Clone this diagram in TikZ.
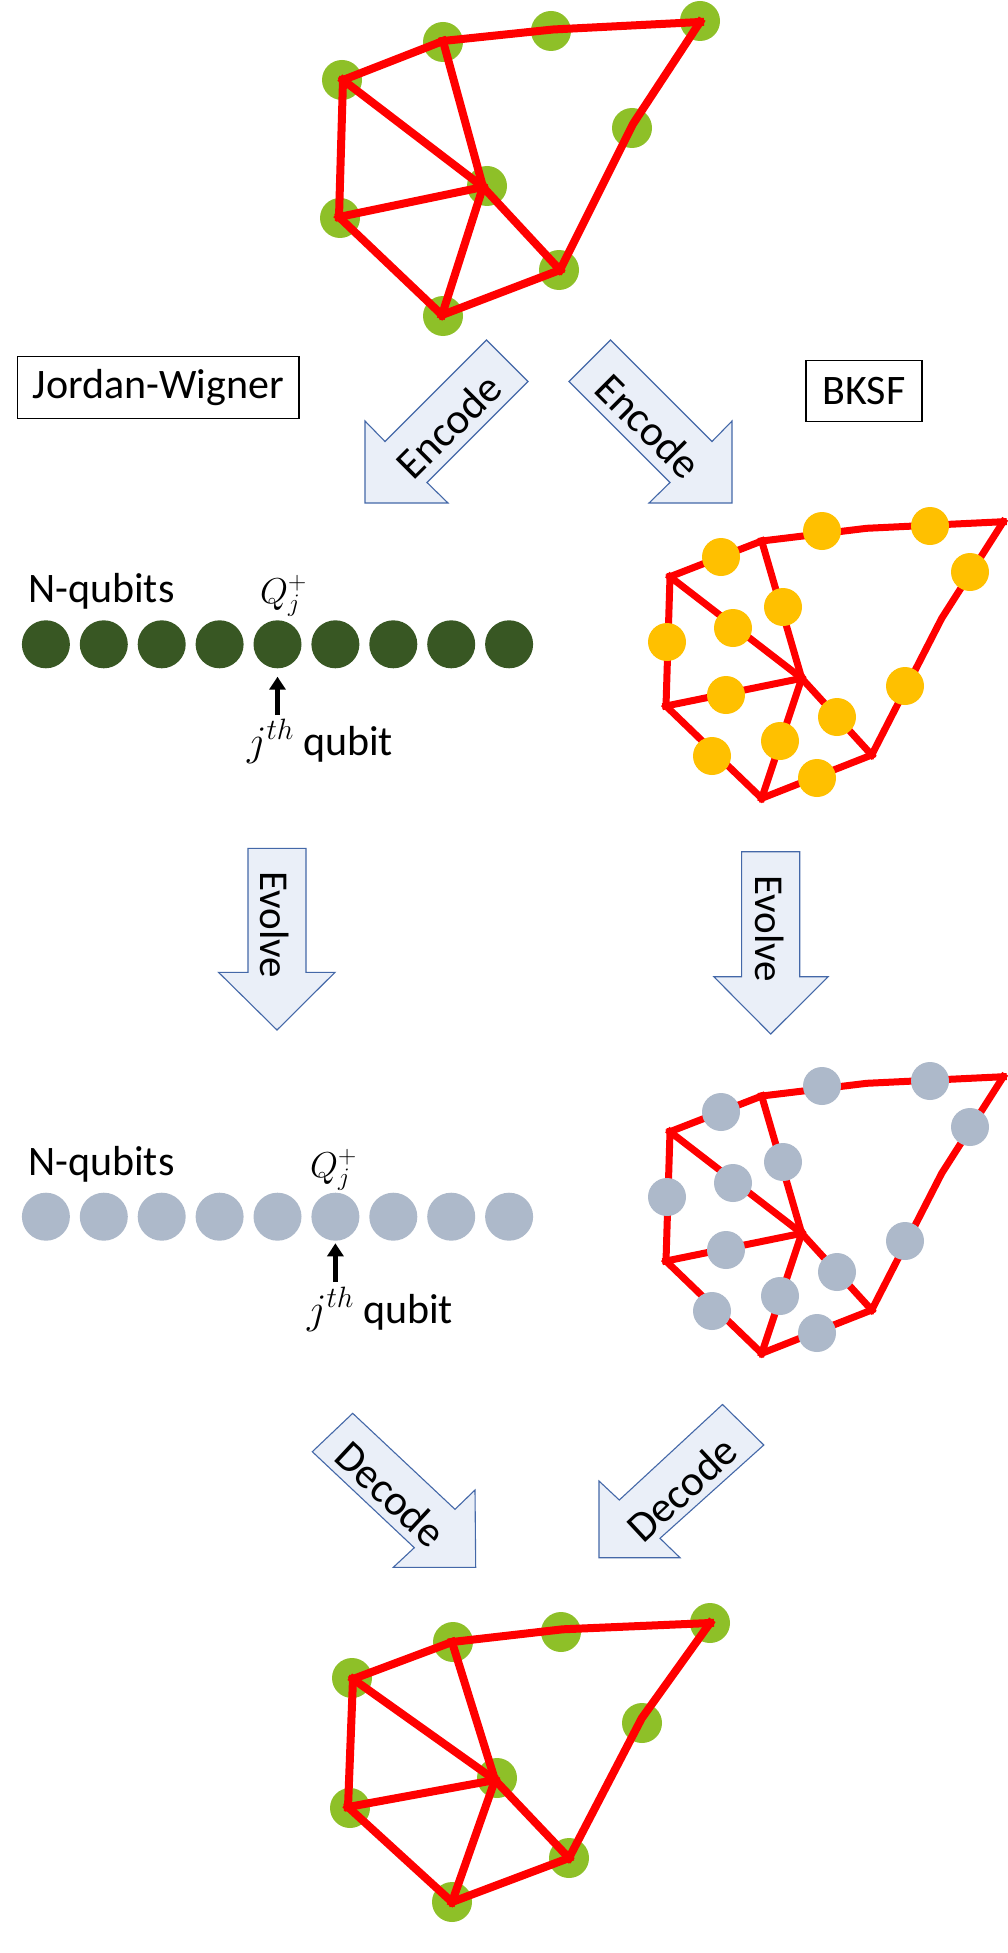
\RequirePackage{fix-cm}
\documentclass[tikz,border=0pt]{standalone}
\usepackage[no-math]{fontspec}
\setmainfont{Carlito}
\usetikzlibrary{arrows.meta}
\definecolor{lgreen}{RGB}{142,192,40}
\definecolor{dgreen}{RGB}{56,87,35}
\definecolor{qgrey}{RGB}{173,185,202}
\definecolor{ylw}{RGB}{255,192,0}
\definecolor{arrfill}{RGB}{234,239,248}
\definecolor{arrline}{RGB}{68,104,168}
\newcommand\bksfnet[3]{%
 \begin{scope}[yshift=-#2pt]
 \coordinate (#1A) at (1003.3,521.7);
 \coordinate (#1C) at (761.7,541);
 \coordinate (#1D) at (670,576.7);
 \coordinate (#1F) at (801.7,678.3);
 \coordinate (#1G) at (666,706);
 \coordinate (#1H) at (871.7,755);
 \coordinate (#1I) at (761.7,798.3);
 \coordinate (#1K) at (866.7,528.3);
 \coordinate (#1L) at (941.7,618.3);
 \draw[bedge] (#1D) -- (#1C);
 \draw[bedge] (#1C) -- (#1K) -- (#1A);
 \draw[bedge] (#1A) -- (#1L) -- (#1H);
 \draw[bedge] (#1D) -- (#1G);
 \draw[bedge] (#1D) -- (#1F);
 \draw[bedge] (#1C) -- (#1F);
 \draw[bedge] (#1G) -- (#1F);
 \draw[bedge] (#1G) -- (#1I);
 \draw[bedge] (#1F) -- (#1I);
 \draw[bedge] (#1F) -- (#1H);
 \draw[bedge] (#1I) -- (#1H);
 \foreach \x/\y [count=\i] in {721/557, 822/531, 930/526, 970/572, 783/607, 733/628, 667/642, 726/695, 837/717, 905/686, 712/756, 780/741, 817/778}
   \node[bdot, fill=#3] (#1q\i) at (\x,\y) {};
 \end{scope}}
\begin{document}
\begin{tikzpicture}[x=1pt,y=-1pt,
  redge/.style={draw=red, line width=8pt, line cap=rect, line join=round},
  bedge/.style={draw=red, line width=7pt, line cap=rect, line join=round},
  gdot/.style={circle, fill=lgreen, minimum size=40pt, inner sep=0pt},
  bdot/.style={circle, minimum size=38pt, inner sep=0pt},
  qdot/.style={circle, minimum size=48pt, inner sep=0pt},
  blockarr/.style={draw=arrline, fill=arrfill, line width=1.1pt, line join=miter},
  arrtxt/.style={font=\fontsize{43}{50}\selectfont, inner sep=0pt},
  evtxt/.style={font=\fontsize{41}{48}\selectfont, inner sep=0pt},
  lbl/.style={font=\fontsize{42}{50}\selectfont, inner sep=0pt},
  mlbl/.style={font=\fontsize{36}{42}\selectfont, inner sep=0pt},
  boxlbl/.style={draw=black, line width=1.1pt, font=\fontsize{42}{50}\selectfont, inner sep=0pt},
  ptr/.style={line width=4.3pt, -{Triangle[width=16pt,length=13pt]}}]
\useasboundingbox (0,0) rectangle (1008,1953);
\fill[white] (0,0) rectangle (1008,1953);

% ---------- top graph ----------
\node[gdot] (tgA) at (700,21) {};
\node[gdot] (tgB) at (551,31) {};
\node[gdot] (tgC) at (443,42) {};
\node[gdot] (tgD) at (342,80) {};
\node[gdot] (tgE) at (632,128) {};
\node[gdot] (tgF) at (487,186) {};
\node[gdot] (tgG) at (340,218) {};
\node[gdot] (tgH) at (559,270) {};
\node[gdot] (tgI) at (443,316) {};
\coordinate (tA) at (700,22);
\coordinate (tK) at (553,29.5);
\coordinate (tC) at (443,41);
\coordinate (tD) at (343,80);
\coordinate (tL) at (633,124);
\coordinate (tF) at (483,187);
\coordinate (tG) at (339,217);
\coordinate (tH) at (560,270);
\coordinate (tI) at (442,315);
\draw[redge] (tD) -- (tC);
\draw[redge] (tC) -- (tK) -- (tA);
\draw[redge] (tA) -- (tL) -- (tH);
\draw[redge] (tD) -- (tG);
\draw[redge] (tD) -- (tF);
\draw[redge] (tC) -- (tF);
\draw[redge] (tG) -- (tF);
\draw[redge] (tG) -- (tI);
\draw[redge] (tF) -- (tI);
\draw[redge] (tF) -- (tH);
\draw[redge] (tI) -- (tH);

% ---------- labels ----------
\node[boxlbl, minimum width=281.6pt, minimum height=62.3pt] (jw) at (158.2,387.2) {Jordan-Wigner};
\node[boxlbl, minimum width=116pt, minimum height=60.6pt] (bk) at (864,391) {BKSF};

% ---------- encode arrows ----------
\draw[blockarr] (486.5,340) -- (528,381.5) -- (427,482.5) -- (448,503) -- (365,503) -- (365,421) -- (385,441.5) -- cycle;
\node[arrtxt, rotate=45] (enc1) at (448.5,426) {Encode};
\draw[blockarr] (610.5,340) -- (569,381.5) -- (670,482.5) -- (649,503) -- (732,503) -- (732,421) -- (712,441.5) -- cycle;
\node[arrtxt, rotate=-45] (enc2) at (648.5,426) {Encode};

% ---------- JW row 1 ----------
\foreach \i in {1,...,9} \node[qdot, fill=dgreen] (r\i) at ({45.9+57.9*(\i-1)},644.3) {};
\node[lbl, anchor=base west] (nq1) at (28,602) {N-qubits};
\node[mlbl, anchor=base west] (Q1) at (260,603) {$Q_j^+$};
\coordinate (p1a) at (277.5,715);
\coordinate (p1b) at (277.5,676.7);
\draw[ptr] (p1a) -- (p1b);
\node[lbl, anchor=base west] (jt1) at (247,755) {$j^{th}$\hspace{9pt}qubit};

% ---------- BKSF encoded ----------
\bksfnet{ya}{0}{ylw}

% ---------- evolve arrows ----------
\draw[blockarr] (248,848.3) -- (306,848.3) -- (306,972.3) -- (335,972.3) -- (277,1030) -- (218.5,972.3) -- (248,972.3) -- cycle;
\node[evtxt, rotate=-90] (ev1) at (275,925) {Evolve};
\draw[blockarr] (741.6,851.7) -- (799.7,851.7) -- (799.7,976.7) -- (828.2,976.7) -- (770.7,1034) -- (713.8,976.7) -- (741.6,976.7) -- cycle;
\node[evtxt, rotate=-90] (ev2) at (770,929) {Evolve};

% ---------- JW row 2 ----------
\foreach \i in {1,...,9} \node[qdot, fill=qgrey] (s\i) at ({45.9+57.9*(\i-1)},1216.7) {};
\node[lbl, anchor=base west] (nq2) at (28,1175) {N-qubits};
\node[mlbl, anchor=base west] (Q2) at (310,1177) {$Q_j^+$};
\coordinate (p2a) at (335.4,1281.7);
\coordinate (p2b) at (335.4,1243.3);
\draw[ptr] (p2a) -- (p2b);
\node[lbl, anchor=base west] (jt2) at (307,1323) {$j^{th}$\hspace{9pt}qubit};

% ---------- BKSF evolved ----------
\bksfnet{gb}{555}{qgrey}

% ---------- decode arrows ----------
\draw[blockarr] (312.3,1451.7) -- (352.7,1413.3) -- (455,1509.3) -- (475,1490) -- (475.7,1567.3) -- (393.3,1567.3) -- (414.3,1547.7) -- cycle;
\node[arrtxt, rotate=-43] (dec1) at (390.8,1494) {Decode};
\draw[blockarr] (722.5,1404.5) -- (763.8,1445) -- (660,1538.3) -- (680,1557.7) -- (599,1557.7) -- (599,1481) -- (619.3,1500) -- cycle;
\node[arrtxt, rotate=43] (dec2) at (681.9,1489) {Decode};

% ---------- bottom graph ----------
\node[gdot] (bgA) at (710,1623) {};
\node[gdot] (bgB) at (561,1632) {};
\node[gdot] (bgC) at (453,1642) {};
\node[gdot] (bgD) at (352,1678) {};
\node[gdot] (bgE) at (642,1723) {};
\node[gdot] (bgF) at (497,1778) {};
\node[gdot] (bgG) at (350,1808) {};
\node[gdot] (bgH) at (569,1858) {};
\node[gdot] (bgI) at (452,1902) {};
\coordinate (bA) at (710,1623);
\coordinate (bK) at (562.7,1629.3);
\coordinate (bC) at (452,1642);
\coordinate (bD) at (353,1679);
\coordinate (bL) at (641.7,1718.3);
\coordinate (bF) at (495,1780);
\coordinate (bG) at (348,1807);
\coordinate (bH) at (569,1858);
\coordinate (bI) at (452,1902);
\draw[redge] (bD) -- (bC);
\draw[redge] (bC) -- (bK) -- (bA);
\draw[redge] (bA) -- (bL) -- (bH);
\draw[redge] (bD) -- (bG);
\draw[redge] (bD) -- (bF);
\draw[redge] (bC) -- (bF);
\draw[redge] (bG) -- (bF);
\draw[redge] (bG) -- (bI);
\draw[redge] (bF) -- (bI);
\draw[redge] (bF) -- (bH);
\draw[redge] (bI) -- (bH);
\end{tikzpicture}
\end{document}
